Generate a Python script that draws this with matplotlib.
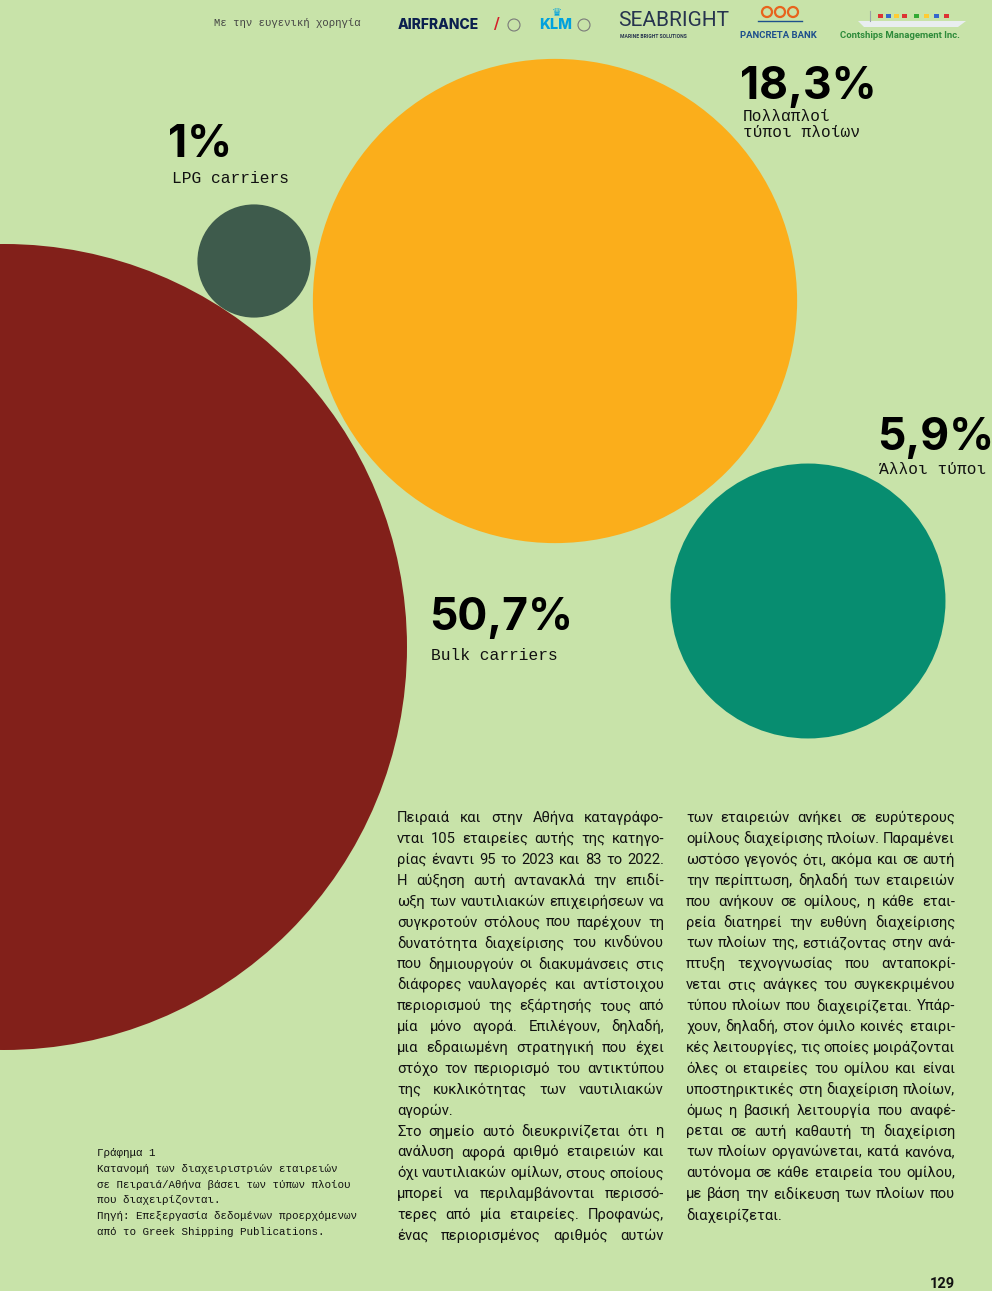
import matplotlib
matplotlib.use("Agg")
import matplotlib.pyplot as plt
from matplotlib.patches import Circle
import numpy as np

W, H = 992, 1291

# --- data: ship types managed from Piraeus / Athens (share of companies, %)
categories = ["Bulk carriers", "Πολλαπλοί\nτύποι πλοίων", "Άλλοι τύποι", "LPG carriers"]
shares = [50.7, 18.3, 5.9, 1.0]
share_labels = ["50,7%", "18,3%", "5,9%", "1%"]
colors = ["#82201a", "#fbae1b", "#078d70", "#3e5b4c"]

# --- layout in page pixels (y grows downwards)
centers = [(4, 647), (555, 301), (808, 601), (254, 261)]
pct_pos = [(429, 630), (740, 99), (877, 450), (168, 157)]
cat_pos = [(431, 645), (743, 106), (879, 459), (172, 168)]
R_MAX = 403

BG = "#c8e3a9"
INK = "#111111"
MONO = ["Liberation Mono", "DejaVu Sans Mono"]
SANS = ["Roboto", "DejaVu Sans"]
BODY = ["Roboto", "DejaVu Sans"]
BOLD = ["Inter", "Roboto", "DejaVu Sans"]

col1 = [
    "Πειραιά και στην Αθήνα καταγράφο-",
    "νται 105 εταιρείες αυτής της κατηγο-",
    "ρίας έναντι 95 το 2023 και 83 το 2022.",
    "Η αύξηση αυτή αντανακλά την επιδί-",
    "ωξη των ναυτιλιακών επιχειρήσεων να",
    "συγκροτούν στόλους που παρέχουν τη",
    "δυνατότητα διαχείρισης του κινδύνου",
    "που δημιουργούν οι διακυμάνσεις στις",
    "διάφορες ναυλαγορές και αντίστοιχου",
    "περιορισμού της εξάρτησής τους από",
    "μία μόνο αγορά. Επιλέγουν, δηλαδή,",
    "μια εδραιωμένη στρατηγική που έχει",
    "στόχο τον περιορισμό του αντικτύπου",
    "της κυκλικότητας των ναυτιλιακών",
    "αγορών.",
    "Στο σημείο αυτό διευκρινίζεται ότι η",
    "ανάλυση αφορά αριθμό εταιρειών και",
    "όχι ναυτιλιακών ομίλων, στους οποίους",
    "μπορεί να περιλαμβάνονται περισσό-",
    "τερες από μία εταιρείες. Προφανώς,",
    "ένας περιορισμένος αριθμός αυτών",
]
col1_ends = [14]

col2 = [
    "των εταιρειών ανήκει σε ευρύτερους",
    "ομίλους διαχείρισης πλοίων. Παραμένει",
    "ωστόσο γεγονός ότι, ακόμα και σε αυτή",
    "την περίπτωση, δηλαδή των εταιρειών",
    "που ανήκουν σε ομίλους, η κάθε εται-",
    "ρεία διατηρεί την ευθύνη διαχείρισης",
    "των πλοίων της, εστιάζοντας στην ανά-",
    "πτυξη τεχνογνωσίας που ανταποκρί-",
    "νεται στις ανάγκες του συγκεκριμένου",
    "τύπου πλοίων που διαχειρίζεται. Υπάρ-",
    "χουν, δηλαδή, στον όμιλο κοινές εταιρι-",
    "κές λειτουργίες, τις οποίες μοιράζονται",
    "όλες οι εταιρείες του ομίλου και είναι",
    "υποστηρικτικές στη διαχείριση πλοίων,",
    "όμως η βασική λειτουργία που αναφέ-",
    "ρεται σε αυτή καθαυτή τη διαχείριση",
    "των πλοίων οργανώνεται, κατά κανόνα,",
    "αυτόνομα σε κάθε εταιρεία του ομίλου,",
    "με βάση την ειδίκευση των πλοίων που",
    "διαχειρίζεται.",
]
col2_ends = [19]

caption = [
    "Γράφημα 1",
    "Κατανομή των διαχειριστριών εταιρειών",
    "σε Πειραιά/Αθήνα βάσει των τύπων πλοίου",
    "που διαχειρίζονται.",
    "Πηγή: Επεξεργασία δεδομένων προερχόμενων",
    "από το Greek Shipping Publications.",
]

fig = plt.figure(figsize=(W / 100, H / 100), dpi=100, facecolor=BG)
ax = fig.add_axes([0, 0, 1, 1])
ax.set_xlim(0, W)
ax.set_ylim(H, 0)
ax.set_aspect("equal")
ax.axis("off")
ax.set_facecolor(BG)

# bubbles, area proportional to the share
top = max(shares)
for (cx, cy), v, c in zip(centers, shares, colors):
    r = R_MAX * np.sqrt(v / top)
    ax.add_patch(Circle((cx, cy), r, facecolor=c, edgecolor="none"))

for (px, py), (qx, qy), pct, cat in zip(pct_pos, cat_pos, share_labels, categories):
    ax.text(px, py, pct, fontsize=32, fontweight="bold", family=BOLD,
            color="black", va="baseline", ha="left")
    ax.text(qx, qy + 3, cat, fontsize=11.7, family=MONO, color=INK,
            va="top", ha="left", linespacing=1.1)

# header with sponsor names
ax.text(214, 23, "Με την ευγενική χορηγία", fontsize=7.7, family=MONO,
        color="#444444", va="center")
ax.text(398, 25, "AIRFRANCE", fontsize=10, fontweight="heavy", family=BOLD,
        color="#0b1f4f", va="center")
ax.text(494, 25, "/", fontsize=11, fontweight="bold", color="#d4202a", va="center")
ax.add_patch(Circle((514, 25), 6, facecolor="none", edgecolor="#7a7a7a", lw=0.8))
ax.text(539, 25, "KLM", fontsize=10.5, fontweight="heavy", family=BOLD,
        color="#00a1de", va="center")
ax.text(557, 13, "♛", fontsize=8, color="#00a1de", va="center", ha="center",
        family=["DejaVu Sans"])
ax.add_patch(Circle((584, 25), 6, facecolor="none", edgecolor="#7a7a7a", lw=0.8))
ax.text(618, 21, "SEABRIGHT", fontsize=15, family=SANS,
        color="#27344f", va="center")
ax.text(620, 36, "MARINE BRIGHT SOLUTIONS", fontsize=3.6, family=SANS,
        color="#27344f", va="center", fontweight="bold")
for sx in (767, 780, 793):
    ax.add_patch(Circle((sx, 12), 5, facecolor="none", edgecolor="#e8631c", lw=1.6))
ax.plot([758, 802], [21, 21], color="#1d4f8c", lw=1)
ax.text(740, 36, "PANCRETA BANK", fontsize=6.8, fontweight="bold", family=SANS,
        color="#1d4f8c", va="center")
# little ship with signal flags above the Contships name
ax.fill([858, 966, 958, 864], [21, 21, 27, 27], color="#e9eef0", lw=0)
ax.plot([870, 870], [11, 21], color="#9aa4a8", lw=0.8)
for fx, fc in zip((878, 886, 894, 902, 914, 924, 934, 944),
                  ("#d33", "#36c", "#fc3", "#d33", "#3a3", "#fc3", "#36c", "#d33")):
    ax.add_patch(plt.Rectangle((fx, 14), 5, 4, color=fc, lw=0))
ax.text(840, 36, "Contships Management Inc.", fontsize=6.8, fontweight="bold",
        family=SANS, color="#2e8b3a", va="center")

# body text, justified
fig.canvas.draw()
renderer = fig.canvas.get_renderer()


def width_of(s, size):
    t = ax.text(0, 0, s, fontsize=size, family=BODY)
    w = t.get_window_extent(renderer).width
    t.remove()
    return w


# size at which the justified lines fit their column
base = 11.0
fill = []
for lines, ends, wcol in ((col1, col1_ends, 267), (col2, col2_ends, 269)):
    for i, line in enumerate(lines):
        if i not in ends:
            fill.append(wcol / width_of(line, base))
BODY_SIZE = base * min(1.0, min(fill)) * 1.01
space = width_of("a a", BODY_SIZE) - width_of("aa", BODY_SIZE)


def justified(lines, x0, width, y0, step, ends):
    for i, line in enumerate(lines):
        y = y0 + i * step
        words = line.split()
        objs = [ax.text(0, y, w, fontsize=BODY_SIZE, family=BODY, color=INK,
                        va="center", ha="left") for w in words]
        widths = [o.get_window_extent(renderer).width for o in objs]
        if i in ends or len(words) == 1:
            gap = space
        else:
            gap = max(0.75 * space, (width - sum(widths)) / (len(words) - 1))
        x = x0
        for o, w in zip(objs, widths):
            o.set_x(x)
            x += w + gap


justified(col1, 397, 267, 818, 20.9, col1_ends)
justified(col2, 686, 269, 818, 20.9, col2_ends)

for i, line in enumerate(caption):
    ax.text(97, 1153 + i * 15.8, line, fontsize=7.8, family=MONO, color=INK,
            va="center", ha="left")

ax.text(955, 1284, "129", fontsize=10.5, fontweight="bold", family=SANS,
        color=INK, va="center", ha="right")

fig.savefig("out.png", dpi=100, facecolor=BG)
